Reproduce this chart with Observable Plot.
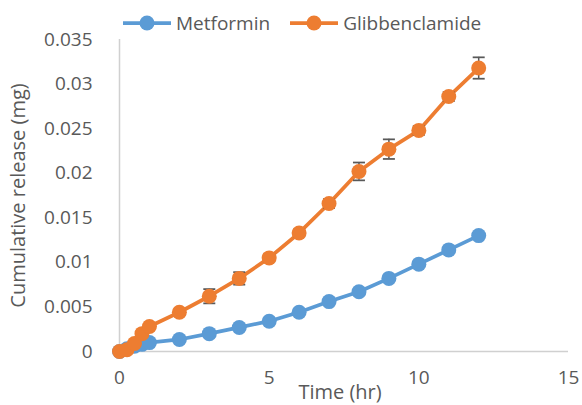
<!DOCTYPE html>
<html>
<head>
<meta charset="utf-8">
<script src="https://cdn.jsdelivr.net/npm/d3@7"></script>
<script src="https://cdn.jsdelivr.net/npm/@observablehq/plot@0.6"></script>
<style>
  body { margin: 0; background: #fff; }
  #wrap { position: relative; width: 582px; height: 405px; font-family: "Open Sans", sans-serif; color: #595959; }
  #legend { position: absolute; top: 10px; left: 123px; display: flex; align-items: center; font-size: 19px; }
  .item { display: flex; align-items: center; margin-right: 20px; }
  .item svg { margin-right: 5px; }
</style>
</head>
<body>
<div id="wrap"><div id="legend"></div></div>
<script>
// ---- data ----
const timeHr = [0, 0.25, 0.5, 0.75, 1, 2, 3, 4, 5, 6, 7, 8, 9, 10, 11, 12];
const metformin = [0, 0.0003, 0.0006, 0.0008, 0.001, 0.00135, 0.002, 0.0027, 0.0034, 0.0044, 0.0056, 0.0067, 0.0082, 0.0098, 0.0114, 0.013];
const glibenclamide = [0, 0.0002, 0.0009, 0.002, 0.0028, 0.0044, 0.0062, 0.0082, 0.0105, 0.0133, 0.0166, 0.0202, 0.0227, 0.0248, 0.0286, 0.0318];
const glibenclamideErr = [0, 0, 0.0002, 0.0002, 0.0002, 0.0003, 0.0008, 0.0007, 0.0004, 0.0004, 0.0005, 0.001, 0.0011, 0.0005, 0.0005, 0.0012];
const seriesNames = ["Metformin", "Glibbenclamide"];
const seriesColors = ["#5B9BD5", "#ED7D31"];
const xTicks = [0, 5, 10, 15];
const yTicks = [0, 0.005, 0.01, 0.015, 0.02, 0.025, 0.03, 0.035];
const xTitle = "Time (hr)";
const yTitle = "Cumulative release (mg)";

// ---- tables ----
const metRows = timeHr.map((t, i) => ({t, v: metformin[i], s: seriesNames[0]}));
const gliRows = timeHr.map((t, i) => ({t, v: glibenclamide[i], e: glibenclamideErr[i], s: seriesNames[1]}));

const capSymbol = {
  draw(ctx, size) {
    const w = Math.sqrt(size / Math.PI);
    ctx.moveTo(-w, 0);
    ctx.lineTo(w, 0);
  }
};

const fmt = d => String(+d.toFixed(3));

const chart = Plot.plot({
  width: 582,
  height: 405,
  marginLeft: 119,
  marginRight: 14,
  marginTop: 39,
  marginBottom: 54,
  style: {fontFamily: "Open Sans, sans-serif", fontSize: "19px", color: "#595959", background: "transparent", overflow: "visible"},
  x: {domain: [0, 15]},
  y: {domain: [0, 0.035]},
  color: {domain: seriesNames, range: seriesColors},
  marks: [
    Plot.ruleX([0], {stroke: "#d0d0d0", strokeWidth: 1.5}),
    Plot.ruleY([0], {stroke: "#d0d0d0", strokeWidth: 1.5}),
    Plot.axisX({ticks: xTicks, tickSize: 0, tickPadding: 19, tickFormat: fmt, fontSize: 19, fill: "#595959", label: null}),
    Plot.axisY({ticks: yTicks, tickSize: 0, tickPadding: 27, tickFormat: fmt, fontSize: 19, fill: "#595959", label: null}),
    Plot.text([xTitle], {frameAnchor: "bottom", dy: 47, dx: -4, fontSize: 20, fill: "#595959"}),
    Plot.text([yTitle], {frameAnchor: "left", textAnchor: "middle", rotate: -90, dx: -101, fontSize: 20, fill: "#595959"}),
    Plot.line(metRows, {x: "t", y: "v", stroke: "s", strokeWidth: 3.75}),
    Plot.dot(metRows, {x: "t", y: "v", fill: "s", r: 7.5}),
    Plot.line(gliRows, {x: "t", y: "v", stroke: "s", strokeWidth: 3.75}),
    Plot.ruleX(gliRows, {x: "t", y1: d => d.v - d.e, y2: d => d.v + d.e, stroke: "#595959", strokeWidth: 1.5}),
    Plot.dot(gliRows, {x: "t", y: d => d.v + d.e, r: 6, symbol: capSymbol, stroke: "#595959", strokeWidth: 1.75}),
    Plot.dot(gliRows, {x: "t", y: d => d.v - d.e, r: 6, symbol: capSymbol, stroke: "#595959", strokeWidth: 1.75}),
    Plot.dot(gliRows, {x: "t", y: "v", fill: "s", r: 7.5})
  ]
});
document.getElementById("wrap").appendChild(chart);

// ---- legend ----
const legend = document.getElementById("legend");
seriesNames.forEach((name, i) => {
  const item = document.createElement("div");
  item.className = "item";
  item.innerHTML = `<svg width="48" height="18"><line x1="0" y1="9" x2="48" y2="9" stroke="${seriesColors[i]}" stroke-width="3.75"/><circle cx="24" cy="9" r="7.5" fill="${seriesColors[i]}"/></svg><span>${name}</span>`;
  legend.appendChild(item);
});
</script>
</body>
</html>
